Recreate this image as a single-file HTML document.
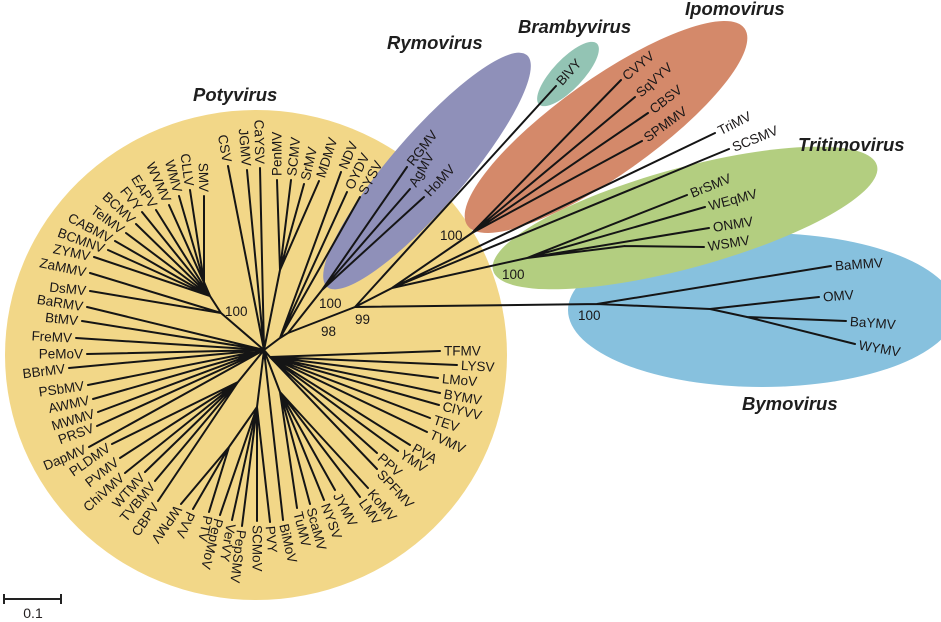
<!DOCTYPE html>
<html><head><meta charset="utf-8"><style>
html,body{margin:0;padding:0;background:#fff}
svg{display:block}
.t text{font-family:"Liberation Sans",Arial,sans-serif;font-size:13.5px;fill:#1a1718}
.t text.f{text-anchor:end}
.c{font-family:"Liberation Sans",Arial,sans-serif;font-size:18.5px;font-weight:bold;font-style:italic;fill:#1e1e1e}
</style></head><body>
<svg width="941" height="622" viewBox="0 0 941 622" xmlns="http://www.w3.org/2000/svg">
<rect width="941" height="622" fill="#fff"/>
<ellipse cx="256" cy="355" rx="251" ry="245" fill="#F2D788"/>
<ellipse cx="762" cy="310" rx="194" ry="77" fill="#87C1DE"/>
<ellipse transform="translate(685 218) rotate(-15.3)" rx="199" ry="50" fill="#B3CE80"/>
<ellipse transform="translate(606 127) rotate(-35.4)" rx="170" ry="48" fill="#D4896A"/>
<ellipse transform="translate(427 171) rotate(-49.2)" rx="153" ry="37" fill="#8F90B9"/>
<ellipse transform="translate(568 74) rotate(-46.5)" rx="42" ry="15" fill="#93C4B4"/>

<path fill="none" stroke="#151515" stroke-width="2" stroke-linecap="round" d="
M264 350 L221 313 L210 296 L204 282
M264 350 L238 382
M264 350 L257 407 L229 447
M264 350 L280 392
M264 350 L270 357
M264 350 L280 270
M264 350 L280 338 L288 333 L322 290
M288 333 L355 307 L392 288 L472 233
M392 288 L527 258 L625 246
M355 307 L597 304 L710 309 L747 317
M204 282 L204 196 M204 282 L190 190 M204 282 L179 196
M210 296 L169 205 M210 296 L156 210 M210 296 L142 212 M210 296 L136 224 M210 296 L126 233 M210 296 L115 241 M210 296 L108 250 M210 296 L94 257
M221 313 L90 273 M221 313 L90 291
M264 350 L87 307 M264 350 L82 321 M264 350 L76 338 M264 350 L87 354 M264 350 L69 368 M264 350 L88 385 M264 350 L93 399 M264 350 L98 412 M264 350 L97 426 M264 350 L89 447
M264 350 L283 520 M264 350 L228 166 M264 350 L247 170 M264 350 L260 168
M238 382 L112 444 M238 382 L120 458 M238 382 L125 473 M238 382 L145 472 M238 382 L155 481 M238 382 L158 501
M229 447 L181 504 M229 447 L193 509 M229 447 L209 512
M257 407 L220 515 M257 407 L232 520 M257 407 L242 526 M257 407 L257 521 M257 407 L270 522
M280 392 L297 508 M280 392 L310 504 M280 392 L324 500 M280 392 L335 490 M280 392 L360 497 M280 392 L368 488
M270 357 L377 469 M270 357 L377 453 M270 357 L398 451 M270 357 L410 445 M270 357 L427 432 M270 357 L430 418 M270 357 L439 405 M270 357 L440 393 M270 357 L438 378 M270 357 L457 365 M270 357 L440 351
M280 270 L277 180 M280 270 L291 180 M280 270 L304 184 M280 270 L319 181
M280 338 L341 172 M280 338 L347 192 M280 338 L360 197
M322 290 L407 167 M322 290 L410 189 M322 290 L424 197
M355 307 L556 86
M472 233 L621 80 M472 233 L635 97 M472 233 L648 113 M472 233 L642 141
M392 288 L715 133 M392 288 L729 149
M527 258 L687 195 M527 258 L705 207 M527 258 L709 228 M625 246 L704 247
M597 304 L831 266 M710 309 L819 297 M747 317 L846 321 M747 317 L855 344
"/>

<g class="t">
<text class="f" transform="translate(204 196) rotate(89)" x="-4" dy=".35em">SMV</text>
<text class="f" transform="translate(190 190) rotate(82.5)" x="-4" dy=".35em">CLLV</text>
<text class="f" transform="translate(179 196) rotate(75)" x="-4" dy=".35em">WMV</text>
<text class="f" transform="translate(169 205) rotate(66)" x="-4" dy=".35em">WVMV</text>
<text class="f" transform="translate(156 210) rotate(58)" x="-4" dy=".35em">EAPV</text>
<text class="f" transform="translate(142 212) rotate(51.5)" x="-4" dy=".35em">FVY</text>
<text class="f" transform="translate(136 224) rotate(43.7)" x="-4" dy=".35em">BCMV</text>
<text class="f" transform="translate(126 233) rotate(36.3)" x="-4" dy=".35em">TelMV</text>
<text class="f" transform="translate(115 241) rotate(28)" x="-4" dy=".35em">CABMV</text>
<text class="f" transform="translate(108 250) rotate(20)" x="-4" dy=".35em">BCMNV</text>
<text class="f" transform="translate(94 257) rotate(12)" x="-4" dy=".35em">ZYMV</text>
<text class="f" transform="translate(90 273) rotate(12)" x="-4" dy=".35em">ZaMMV</text>
<text class="f" transform="translate(90 291) rotate(6)" x="-4" dy=".35em">DsMV</text>
<text class="f" transform="translate(87 307) rotate(9)" x="-4" dy=".35em">BaRMV</text>
<text class="f" transform="translate(82 321) rotate(6)" x="-4" dy=".35em">BtMV</text>
<text class="f" transform="translate(76 338) rotate(3)" x="-4" dy=".35em">FreMV</text>
<text class="f" transform="translate(87 354) rotate(0)" x="-4" dy=".35em">PeMoV</text>
<text class="f" transform="translate(69 368) rotate(-7)" x="-4" dy=".35em">BBrMV</text>
<text class="f" transform="translate(88 385) rotate(-8)" x="-4" dy=".35em">PSbMV</text>
<text class="f" transform="translate(93 399) rotate(-12)" x="-4" dy=".35em">AWMV</text>
<text class="f" transform="translate(98 412) rotate(-17)" x="-4" dy=".35em">MWMV</text>
<text class="f" transform="translate(97 426) rotate(-20)" x="-4" dy=".35em">PRSV</text>
<text class="f" transform="translate(89 447) rotate(-23)" x="-4" dy=".35em">DapMV</text>
<text class="f" transform="translate(112 444) rotate(-35)" x="-4" dy=".35em">PLDMV</text>
<text class="f" transform="translate(120 458) rotate(-38)" x="-4" dy=".35em">PVMV</text>
<text class="f" transform="translate(125 473) rotate(-42)" x="-4" dy=".35em">ChiVMV</text>
<text class="f" transform="translate(145 472) rotate(-48)" x="-4" dy=".35em">WTMV</text>
<text class="f" transform="translate(155 481) rotate(-50)" x="-4" dy=".35em">TVBMV</text>
<text class="f" transform="translate(158 501) rotate(-55)" x="-4" dy=".35em">CBPV</text>
<text class="f" transform="translate(228 166) rotate(80)" x="-4" dy=".35em">CSV</text>
<text class="f" transform="translate(247 170) rotate(85)" x="-4" dy=".35em">JGMV</text>
<text class="f" transform="translate(260 168) rotate(89)" x="-4" dy=".35em">CaYSV</text>

<text transform="translate(181 504) rotate(125)" x="4" dy=".35em">WPMV</text>
<text transform="translate(193 509) rotate(115)" x="4" dy=".35em">PVV</text>
<text transform="translate(209 512) rotate(102)" x="4" dy=".35em">PTV</text>
<text transform="translate(220 515) rotate(105)" x="4" dy=".35em">PepMoV</text>
<text transform="translate(232 520) rotate(100)" x="4" dy=".35em">VerVY</text>
<text transform="translate(242 526) rotate(97)" x="4" dy=".35em">PepSMV</text>
<text transform="translate(257 521) rotate(90)" x="4" dy=".35em">SCMoV</text>
<text transform="translate(270 522) rotate(85)" x="4" dy=".35em">PVY</text>
<text transform="translate(283 520) rotate(77)" x="4" dy=".35em">BiMoV</text>
<text transform="translate(297 508) rotate(76)" x="4" dy=".35em">TuMV</text>
<text transform="translate(310 504) rotate(75)" x="4" dy=".35em">ScaMV</text>
<text transform="translate(324 500) rotate(70)" x="4" dy=".35em">NYSV</text>
<text transform="translate(335 490) rotate(62)" x="4" dy=".35em">JYMV</text>
<text transform="translate(360 497) rotate(55)" x="4" dy=".35em">LMV</text>
<text transform="translate(368 488) rotate(50)" x="4" dy=".35em">KoMV</text>
<text transform="translate(377 469) rotate(47)" x="4" dy=".35em">SPFMV</text>
<text transform="translate(377 453) rotate(42)" x="4" dy=".35em">PPV</text>
<text transform="translate(398 451) rotate(33)" x="4" dy=".35em">YMV</text>
<text transform="translate(410 445) rotate(30)" x="4" dy=".35em">PVA</text>
<text transform="translate(427 432) rotate(25)" x="4" dy=".35em">TVMV</text>
<text transform="translate(430 418) rotate(18)" x="4" dy=".35em">TEV</text>
<text transform="translate(439 405) rotate(14)" x="4" dy=".35em">ClYVV</text>
<text transform="translate(440 393) rotate(10)" x="4" dy=".35em">BYMV</text>
<text transform="translate(438 378) rotate(5)" x="4" dy=".35em">LMoV</text>
<text transform="translate(457 365) rotate(3)" x="4" dy=".35em">LYSV</text>
<text transform="translate(440 351) rotate(0)" x="4" dy=".35em">TFMV</text>
<text transform="translate(277 180) rotate(-90)" x="4" dy=".35em">PenMV</text>
<text transform="translate(291 180) rotate(-84)" x="4" dy=".35em">SCMV</text>
<text transform="translate(304 184) rotate(-77)" x="4" dy=".35em">SrMV</text>
<text transform="translate(319 181) rotate(-72)" x="4" dy=".35em">MDMV</text>
<text transform="translate(341 172) rotate(-67)" x="4" dy=".35em">NDV</text>
<text transform="translate(347 192) rotate(-64)" x="4" dy=".35em">OYDV</text>
<text transform="translate(360 197) rotate(-62)" x="4" dy=".35em">SYSV</text>
<text transform="translate(407 167) rotate(-52)" x="4" dy=".35em">RGMV</text>
<text transform="translate(410 189) rotate(-60)" x="4" dy=".35em">AgMV</text>
<text transform="translate(424 197) rotate(-47)" x="4" dy=".35em">HoMV</text>
<text transform="translate(556 86) rotate(-48)" x="4" dy=".35em">BlVY</text>
<text transform="translate(621 80) rotate(-40)" x="4" dy=".35em">CVYV</text>
<text transform="translate(635 97) rotate(-42)" x="4" dy=".35em">SqVYV</text>
<text transform="translate(648 113) rotate(-38)" x="4" dy=".35em">CBSV</text>
<text transform="translate(642 141) rotate(-36)" x="4" dy=".35em">SPMMV</text>
<text transform="translate(715 133) rotate(-27)" x="4" dy=".35em">TriMV</text>
<text transform="translate(729 149) rotate(-22)" x="4" dy=".35em">SCSMV</text>
<text transform="translate(687 195) rotate(-22)" x="4" dy=".35em">BrSMV</text>
<text transform="translate(705 207) rotate(-15)" x="4" dy=".35em">WEqMV</text>
<text transform="translate(709 228) rotate(-9)" x="4" dy=".35em">ONMV</text>
<text transform="translate(704 247) rotate(-9)" x="4" dy=".35em">WSMV</text>
<text transform="translate(831 266) rotate(-4)" x="4" dy=".35em">BaMMV</text>
<text transform="translate(819 297) rotate(-4)" x="4" dy=".35em">OMV</text>
<text transform="translate(846 321) rotate(4)" x="4" dy=".35em">BaYMV</text>
<text transform="translate(855 344) rotate(10)" x="4" dy=".35em">WYMV</text>

<text x="225" y="316">100</text>
<text x="319" y="308">100</text>
<text x="321" y="336">98</text>
<text x="355" y="324">99</text>
<text x="440" y="240">100</text>
<text x="502" y="279">100</text>
<text x="578" y="320">100</text>
</g>

<text class="c" x="193" y="101">Potyvirus</text>
<text class="c" x="387" y="49">Rymovirus</text>
<text class="c" x="518" y="33">Brambyvirus</text>
<text class="c" x="685" y="15">Ipomovirus</text>
<text class="c" x="798" y="151">Tritimovirus</text>
<text class="c" x="742" y="410">Bymovirus</text>

<path d="M4 594 V604 M4 599 H61 M61 594 V604" stroke="#222" stroke-width="2" fill="none"/>
<text x="33" y="618" text-anchor="middle" style="font-family:'Liberation Sans',Arial,sans-serif;font-size:14px;fill:#231f20">0.1</text>
</svg>
</body></html>
